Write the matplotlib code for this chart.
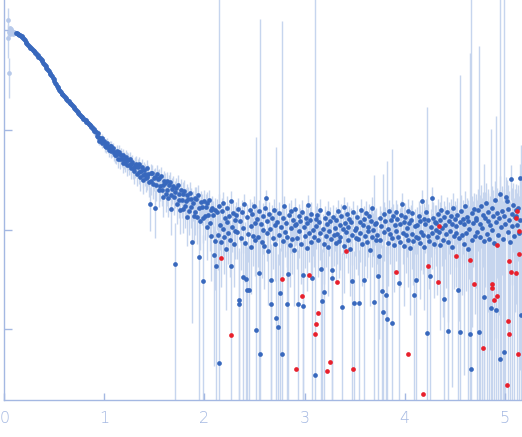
import numpy as np
import matplotlib
matplotlib.use('Agg')
import matplotlib.pyplot as plt
from matplotlib.ticker import NullLocator

# main curve: evenly spaced q, log10 intensity and absolute error
q_first = 0.117
q_step = 0.008
log_intensity = [
    3.975, 3.972, 3.966, 3.964, 3.958, 3.956, 3.946, 3.940, 3.930, 3.924, 3.913, 3.903, 3.889, 3.879, 3.865, 3.855, 3.845, 3.839, 3.829, 3.823, 3.813, 3.807, 3.797, 3.791, 3.778,
    3.770, 3.758, 3.750, 3.738, 3.733, 3.723, 3.713, 3.699, 3.689, 3.674, 3.664, 3.650, 3.640, 3.626, 3.616, 3.602, 3.592, 3.578, 3.567, 3.551, 3.539, 3.523, 3.511, 3.493, 3.477,
    3.459, 3.445, 3.434, 3.419, 3.407, 3.391, 3.381, 3.367, 3.359, 3.349, 3.343, 3.331, 3.323, 3.312, 3.306, 3.296, 3.288, 3.276, 3.269, 3.259, 3.253, 3.241, 3.233, 3.219, 3.210,
    3.204, 3.190, 3.184, 3.168, 3.163, 3.150, 3.146, 3.132, 3.130, 3.116, 3.114, 3.100, 3.098, 3.083, 3.082, 3.067, 3.066, 3.051, 3.049, 3.032, 3.030, 3.012, 3.009, 2.991, 2.987,
    2.981, 2.939, 2.967, 2.935, 2.893, 2.925, 2.892, 2.919, 2.866, 2.883, 2.890, 2.837, 2.864, 2.832, 2.871, 2.830, 2.799, 2.838, 2.836, 2.788, 2.800, 2.817, 2.769, 2.747, 2.781,
    2.745, 2.789, 2.713, 2.757, 2.781, 2.705, 2.749, 2.713, 2.672, 2.746, 2.705, 2.674, 2.733, 2.702, 2.646, 2.695, 2.654, 2.708, 2.618, 2.662, 2.676, 2.620, 2.585, 2.654, 2.629,
    2.659, 2.563, 2.627, 2.581, 2.655, 2.529, 2.594, 2.629, 2.545, 2.500, 2.595, 2.560, 2.515, 2.621, 2.526, 2.561, 2.476, 2.261, 2.566, 2.491, 2.566, 2.461, 2.516, 2.221, 2.526,
    2.444, 2.559, 2.504, 2.399, 2.514, 2.439, 2.543, 2.398, 2.452, 2.326, 2.491, 2.465, 2.360, 2.484, 2.398, 2.323, 2.447, 2.481, 2.346, 2.210, 2.405, 2.439, 2.333, 2.378, 1.652,
    2.418, 2.262, 2.446, 2.300, 2.354, 2.198, 2.402, 2.296, 2.360, 2.204, 2.388, 2.233, 2.288, 2.353, 2.128, 2.313, 2.188, 2.373, 2.228, 2.304, 1.879, 2.264, 2.140, 2.315, 2.180,
    2.313, 2.129, 2.344, 2.219, 1.730, 2.089, 2.275, 2.231, 2.117, 1.480, 2.289, 2.135, 2.231, 2.027, 2.263, 2.149, 2.295, 2.071, 2.197, 1.933, 2.219, 2.145, 1.750, 1.890, 2.193,
    1.64, 2.18, 1.95, 0.66, 2.24, 2.05, 1.88, 2.19, 2.01, 2.27, 1.93, 2.12, 1.81, 2.08, 2.22, 1.97, 2.14, 1.90, 2.29, 1.64, 2.03, 2.17, 1.86, 2.10, 1.99,
    2.15, 1.98, 2.21, 1.25, 1.29, 2.09, 1.92, 2.18, 1.52, 2.02, 2.26, 1.87, 1.50, 1.39, 2.13, 1.96, 1.39, 2.20, 2.04, 1.83, 2.16, 1.94, 2.24, 2.07, 1.90,
    0.99, 2.11, 1.93, 2.19, 1.57, 0.75, 2.06, 1.88, 2.14, 2.00, 1.84, 2.22, 2.32, 1.97, 2.09, 1.79, 2.16, 2.01, 1.25, 1.49, 2.12, 1.92, 2.20, 1.86, 2.05,
    1.11, 2.08, 1.02, 2.17, 1.95, 1.36, 2.03, 0.75, 2.12, 1.89, 2.24, 1.98, 2.07, 1.25, 1.93, 1.56, 2.15, 1.85, 2.02, 2.19, 1.91, 2.10, 1.80, 2.05, 2.21,
    2.06, 1.92, 1.25, 2.14, 1.99, 2.09, 1.86, 2.18, 1.55, 1.23, 2.03, 1.94, 2.12, 1.82, 2.07, 2.25, 1.97, 2.10, 1.88, 2.16, 1.51, 2.00, 1.93, 0.54, 2.11,
    2.04, 2.15, 1.90, 2.08, 1.97, 2.20, 1.61, 1.28, 2.01, 1.86, 1.37, 2.12, 1.94, 2.06, 1.83, 2.17, 1.99, 2.09, 1.91, 1.51, 1.60, 2.13, 1.95, 2.02, 1.87,
    2.10, 1.96, 2.19, 1.89, 2.05, 1.93, 2.14, 1.22, 2.01, 2.23, 1.84, 2.07, 1.98, 2.16, 1.90, 2.03, 2.11, 1.81, 2.08, 1.48, 1.95, 2.18, 1.26, 2.00, 1.92,
    2.02, 2.13, 1.91, 1.26, 2.08, 1.97, 2.20, 1.86, 2.05, 1.49, 2.11, 1.94, 2.17, 1.88, 2.03, 1.99, 2.14, 1.80, 2.09, 1.93, 2.22, 2.00, 1.27, 2.06, 1.90,
    2.07, 1.95, 1.53, 1.74, 2.12, 1.90, 2.04, 1.38, 1.17, 2.16, 1.98, 2.09, 1.34, 1.10, 2.01, 1.87, 2.19, 1.96, 2.10, 1.92, 1.06, 2.14, 1.85, 2.05, 2.18,
    1.99, 2.11, 1.93, 1.46, 2.06, 1.88, 2.15, 2.26, 1.97, 2.08, 1.84, 2.13, 1.95, 2.02, 2.19, 1.90, 2.07, 1.82, 2.10, 1.96, 2.17, 1.89, 1.34, 2.04, 1.93,
    1.49, 2.05, 1.92, 2.14, 1.87, 2.09, 1.98, 2.29, 1.95, 2.11, 1.83, 2.06, 2.18, 0.96, 1.94, 2.10, 1.89, 1.53, 2.03, 2.32, 1.97, 2.12, 1.86, 2.08, 2.00,
    2.07, 1.93, 2.16, 1.98, 2.10, 1.85, 2.20, 2.02, 1.90, 2.13, 1.30, 2.05, 1.96, 2.18, 1.88, 0.98, 2.09, 1.99, 2.14, 1.83, 2.06, 2.22, 1.94, 2.11, 1.97,
    2.04, 2.15, 1.39, 1.92, 2.08, 0.97, 2.19, 1.95, 2.11, 1.86, 2.06, 2.24, 1.97, 2.13, 1.81, 2.09, 2.01, 0.95, 0.60, 2.17, 1.90, 2.07, 2.21, 1.94, 2.12,
    2.10, 1.98, 2.20, 0.97, 2.06, 1.93, 2.24, 2.02, 2.15, 1.89, 1.32, 2.12, 2.27, 1.96, 2.09, 2.18, 1.91, 2.05, 1.21, 2.22, 2.00, 2.14, 1.87, 2.30, 1.19,
    2.08, 2.17, 1.95, 2.12, 0.70, 2.36, 2.03, 2.19, 1.91, 0.77, 2.14, 2.06, 2.33, 2.29, 1.98, 2.21, 2.10, 1.88, 2.51, 2.16, 2.04, 2.25, 1.94, 2.13, 2.20,
    2.14, 2.05, 2.22, 1.97, 2.10, 2.52, 1.14,
]
intensity_err = [
    95, 92, 93, 90, 89, 88, 86, 85, 85, 83, 81, 80, 79, 77, 76, 75, 74, 72, 72, 70, 69, 68, 67, 66, 65,
    64, 63, 62, 61, 61, 60, 58, 58, 57, 56, 55, 54, 53, 52, 51, 50, 49, 48, 48, 47, 46, 45, 44, 43, 42,
    42, 41, 41, 40, 40, 39, 39, 38, 38, 38, 37, 37, 37, 36, 36, 36, 36, 36, 36, 37, 37, 38, 39, 40, 41,
    42, 43, 45, 46, 48, 49, 51, 52, 54, 55, 57, 59, 60, 62, 64, 66, 68, 70, 72, 74, 76, 78, 80, 82, 84,
    70, 73, 71, 76, 74, 78, 77, 81, 79, 83, 82, 86, 84, 87, 86, 90, 88, 91, 90, 93, 92, 94, 93, 95, 94,
    96, 94, 97, 95, 97, 96, 98, 95, 97, 94, 97, 96, 95, 97, 93, 96, 94, 95, 92, 94, 93, 91, 94, 92, 93,
    91, 93, 90, 92, 89, 91, 88, 90, 88, 89, 87, 89, 86, 88, 85, 87, 85, 86, 84, 85, 83, 85, 82, 84, 82,
    83, 81, 82, 80, 81, 79, 80, 78, 80, 77, 79, 76, 78, 76, 77, 75, 76, 74, 75, 73, 75, 72, 74, 72, 73,
    72, 70, 72, 69, 71, 68, 70, 67, 69, 67, 68, 66, 67, 65, 66, 64, 66, 63, 65, 62, 64, 62, 63, 61, 62,
    61, 62, 60, 61, 59, 60, 58, 60, 57, 59, 56, 58, 56, 57, 55, 56, 54, 56, 53, 55, 52, 54, 52, 53, 51,
    53, 51, 50, 25000, 52, 50, 49, 51, 48, 52, 49, 47, 49, 51, 50, 48, 49, 46, 50, 48, 47, 49, 46, 48, 47,
    47, 45, 46, 44, 46, 48, 44, 46, 43, 46, 47, 44, 45, 43, 46, 44, 46, 47, 43, 45, 46, 44, 46, 43, 45,
    840, 44, 43, 46, 42, 13000, 45, 43, 46, 43, 44, 46, 43, 45, 42, 44, 46, 43, 44, 41, 45, 43, 46, 42, 44,
    665, 44, 46, 43, 45, 43, 46, 12450, 44, 43, 45, 42, 46, 44, 43, 45, 43, 44, 46, 42, 45, 43, 46, 43, 44,
    44, 43, 45, 43, 46, 42, 44, 46, 43, 45, 43, 46, 44, 42, 45, 43, 46, 43, 44, 46, 43, 45, 43, 25000, 44,
    45, 43, 46, 43, 44, 46, 43, 45, 42, 44, 46, 43, 45, 43, 46, 44, 43, 46, 43, 45, 44, 42, 46, 43, 45,
    44, 46, 43, 45, 43, 46, 44, 42, 45, 43, 46, 44, 43, 45, 43, 46, 44, 43, 46, 43, 45, 44, 43, 46, 43,
    45, 43, 46, 44, 43, 46, 44, 45, 43, 46, 43, 44, 46, 43, 45, 44, 43, 46, 44, 43, 45, 46, 335, 44, 46,
    46, 44, 45, 47, 43, 46, 44, 47, 345, 45, 47, 44, 46, 477, 45, 47, 44, 46, 43, 47, 635, 45, 47, 44, 46,
    49, 51, 48, 50, 52, 49, 51, 54, 48, 50, 52, 49, 52, 51, 48, 53, 50, 52, 49, 51, 52, 50, 48, 52, 51,
    53, 55, 52, 56, 54, 53, 56, 57, 53, 55, 52, 56, 54, 1697, 53, 56, 52, 55, 54, 57, 53, 56, 52, 55, 57,
    61, 63, 60, 65, 62, 61, 64, 62, 66, 60, 63, 62, 65, 61, 64, 62, 66, 62, 63, 65, 61, 66, 62, 64, 67,
    67, 69, 66, 71, 68, 3560, 70, 67, 72, 69, 68, 73, 69, 71, 69, 74, 70, 5930, 25000, 72, 69, 75, 71, 73, 76,
    100, 104, 98, 6970, 106, 101, 108, 103, 99, 107, 436, 105, 110, 102, 108, 104, 111, 106, 1010, 109, 104, 112, 107, 110, 1370,
    112, 115, 110, 118, 25000, 116, 113, 120, 111, 25000, 117, 114, 121, 118, 112, 122, 116, 119, 125, 117, 121, 118, 123, 120, 126,
    120, 124, 118, 126, 122, 128, 694,
]

# low-q points left out of the fit (drawn pale)
excl_q = [0.036, 0.040, 0.045, 0.050, 0.055, 0.060, 0.066, 0.072, 0.078, 0.085, 0.092, 0.100, 0.108]
excl_log = [4.11, 3.92, 3.57, 3.98, 4.02, 3.96, 4.01, 3.97, 3.99, 3.96, 3.98, 3.97, 3.975]
excl_err = [4000, 3000, 1600, 400, 500, 300, 350, 250, 300, 200, 250, 150, 150]

# outliers flagged in red
red_q = [2.168, 2.268, 2.777, 2.917, 2.971, 3.047, 3.137, 3.117, 3.107, 3.257, 3.227, 3.327, 3.417, 3.487,
         3.916, 4.036, 4.186, 4.236, 4.346, 4.336, 4.516, 4.655, 4.695, 4.785, 4.869, 4.875, 4.895, 4.925,
         4.925, 5.025, 5.035, 5.045, 5.045, 5.065, 5.115, 5.125, 5.115, 5.145, 5.145, 5.135]
red_log = [1.713, 0.943, 1.502, 0.598, 1.334, 1.542, 1.160, 1.050, 0.950, 0.668, 0.581, 1.478, 1.786, 0.598,
           1.572, 0.749, 0.347, 1.632, 2.034, 1.472, 1.733, 1.693, 1.452, 0.809, 1.411, 1.452, 1.291, 1.331,
           1.843, 0.438, 1.083, 0.950, 1.683, 1.572, 1.562, 2.185, 2.114, 1.984, 1.753, 0.749]

axis_color = '#a4b8e2'
point_color = '#3868bd'
bar_color = '#c6d5ee'
pale_color = '#b7c9ea'
red_color = '#e8202c'

inten = 10 ** np.array(log_intensity)
err = np.array(intensity_err, dtype=float)
q = q_first + q_step * np.arange(len(inten))
lo = np.where(inten - err > 0, inten - err, 0.1)

ex_i = 10 ** np.array(excl_log)
ex_e = np.array(excl_err, dtype=float)

fig = plt.figure(figsize=(5.22, 4.37), dpi=100)
ax = fig.add_axes([4.3 / 522, 37.5 / 437, 517.7 / 522, 399.5 / 437])
ax.set_yscale('log')

ax.vlines(excl_q, ex_i - ex_e, ex_i + ex_e, colors=bar_color, lw=1, zorder=1)
ax.vlines(q, lo, inten + err, colors=bar_color, lw=1, zorder=1)
ax.plot(excl_q, ex_i, 'o', ms=3.4, color=pale_color, mec='none', zorder=2)
ax.plot(q, inten, 'o', ms=3.4, color=point_color, mec='none', zorder=3)
ax.plot(red_q, 10 ** np.array(red_log), 'o', ms=3.4, color=red_color, mec='none', zorder=4)

ax.set_xlim(0, 5.172)
ax.set_ylim(10 ** 0.295, 10 ** 4.306)
ax.set_xticks([0, 1, 2, 3, 4, 5])
ax.set_yticks([10, 100, 1000, 10000])
ax.yaxis.set_minor_locator(NullLocator())
ax.set_yticklabels([])

for s in ['top', 'right']:
    ax.spines[s].set_visible(False)
for s in ['left', 'bottom']:
    ax.spines[s].set_color(axis_color)
    ax.spines[s].set_linewidth(1)

ax.tick_params(axis='x', direction='in', length=4.7, width=1, color=axis_color,
               labelcolor=axis_color, labelsize=11.5, pad=8)
ax.tick_params(axis='y', direction='in', length=5.8, width=1, color=axis_color)
for lab in ax.get_xticklabels():
    lab.set_fontweight('light')

fig.savefig('out.png', dpi=100)
